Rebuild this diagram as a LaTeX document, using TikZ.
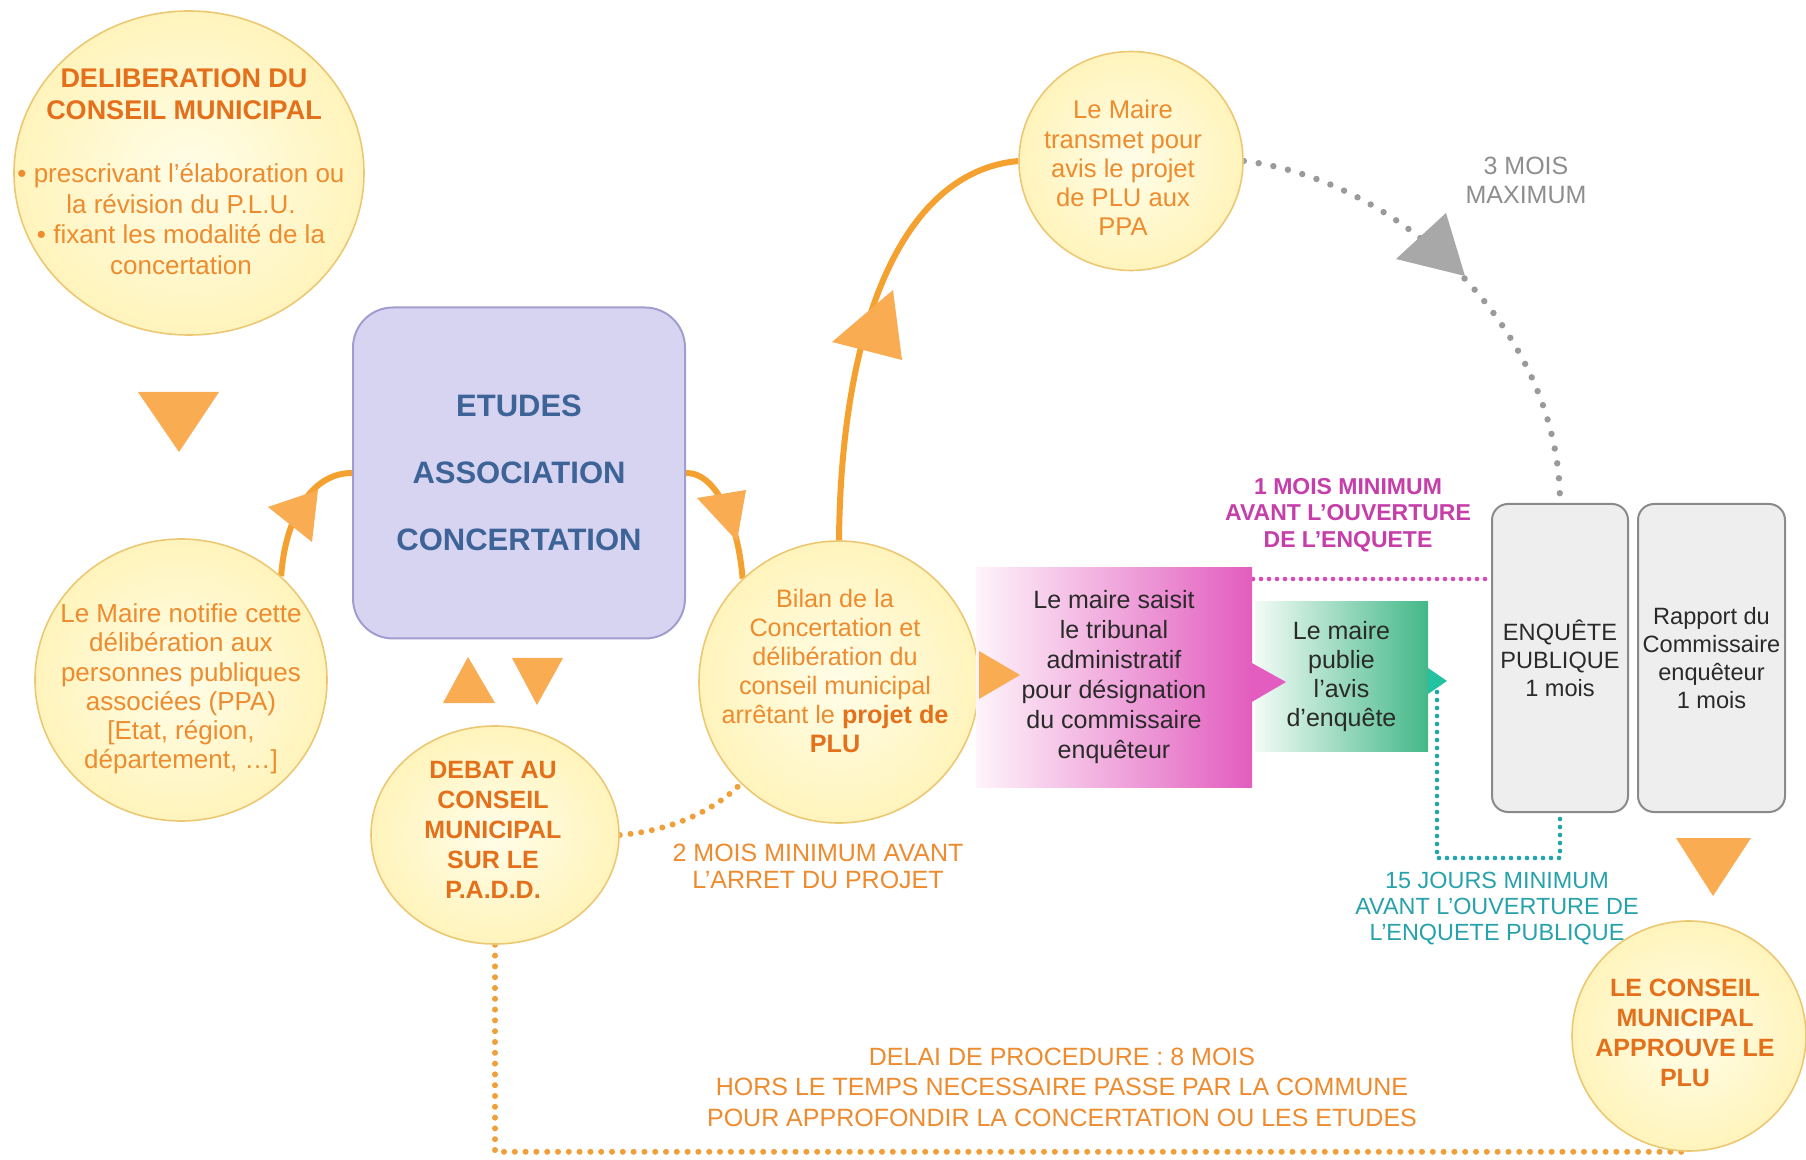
\documentclass[tikz,border=0pt]{standalone}
\usepackage{fontspec}
\setmainfont{Liberation Sans}
\usetikzlibrary{shapes.geometric}
\pgfdeclarelayer{bg}
\pgfsetlayers{bg,main}
\definecolor{circIn}{HTML}{FFFDE8}
\definecolor{circOut}{HTML}{FFF4BC}
\definecolor{circBd}{HTML}{EDC873}
\definecolor{orTtl}{HTML}{E4701C}
\definecolor{orTxt}{HTML}{EE8B2E}
\definecolor{curveOr}{HTML}{F4A12F}
\definecolor{triOr}{HTML}{F9AC52}
\definecolor{boxFill}{HTML}{D7D4F2}
\definecolor{boxBd}{HTML}{A19ECF}
\definecolor{blueTxt}{HTML}{3D6397}
\definecolor{darkTxt}{HTML}{2A2A2A}
\definecolor{greyTxt}{HTML}{8E8E8E}
\definecolor{greyDot}{HTML}{9A9A9A}
\definecolor{greyTri}{HTML}{A8A8A8}
\definecolor{greyFill}{HTML}{EEEEEE}
\definecolor{greyBd}{HTML}{8A8A8A}
\definecolor{pinkR}{HTML}{E25DBF}
\definecolor{pinkM}{HTML}{F2B0E0}
\definecolor{pinkL}{HTML}{FEF4FA}
\definecolor{pinkTxt}{HTML}{C53EA9}
\definecolor{pinkDot}{HTML}{D84AB5}
\definecolor{greenR}{HTML}{43B888}
\definecolor{greenL}{HTML}{F2FBF6}
\definecolor{tealTri}{HTML}{22C1A2}
\definecolor{tealDot}{HTML}{22A5A8}
\definecolor{tealTxt}{HTML}{27A2AA}
\definecolor{dotOr}{HTML}{F0A03A}
\begin{document}
\begin{tikzpicture}[x=0.5pt,y=-0.5pt,
  circ/.style={ellipse, draw=circBd, line width=0.8pt, inner color=circIn, outer color=circOut, inner sep=0pt},
  txt/.style={align=center, inner sep=0pt, text=orTxt, font=\fontsize{13}{14.6}\selectfont},
  ttl/.style={align=center, inner sep=0pt, text=orTtl, font=\fontsize{12.5}{15}\selectfont\bfseries},
  lbl/.style={align=center, inner sep=0pt, font=\fontsize{12.5}{14.5}\selectfont},
  flow/.style={draw=curveOr, line width=3pt},
  odot/.style={draw=dotOr, line width=3pt, dash pattern=on 0pt off 5.4pt, line cap=round},
  gdot/.style={draw=greyDot, line width=3.2pt, dash pattern=on 0pt off 7.5pt, line cap=round},
  pdot/.style={draw=pinkDot, line width=2.3pt, dash pattern=on 0pt off 4pt, line cap=round},
  tdot/.style={draw=tealDot, line width=2.3pt, dash pattern=on 0pt off 4pt, line cap=round},
  gbox/.style={draw=greyBd, fill=greyFill, line width=1pt, rounded corners=8pt, minimum height=154pt, inner sep=0pt, align=center, text=darkTxt, font=\fontsize{11.8}{14}\selectfont}
]
\begin{pgfonlayer}{bg}
\fill[white] (0,0) rectangle (1806,1160);
\end{pgfonlayer}
\useasboundingbox (0,0) rectangle (1806,1160);

% circles
\node[circ, minimum width=175pt, minimum height=162pt] (delib) at (189,173) {};
\node[ttl, font=\fontsize{13.5}{16}\selectfont\bfseries] (delibT) at (184,94) {DELIBERATION DU\\CONSEIL MUNICIPAL};
\node[txt, font=\fontsize{13}{15.3}\selectfont] (delibB) at (181,219) {• prescrivant l'élaboration ou\\la révision du P.L.U.\\• fixant les modalité de la\\concertation};

\node[circ, minimum width=146pt, minimum height=141pt] (notifie) at (181,680) {};
\node[txt] (notifieT) at (181,689) {Le Maire notifie cette\\délibération aux\\personnes publiques\\associées (PPA)\\{[}Etat, région,\\département, …]};

\node[circ, minimum width=124pt, minimum height=109pt] (debat) at (495,835) {};
\node[ttl] (debatT) at (493,830) {DEBAT AU\\CONSEIL\\MUNICIPAL\\SUR LE\\P.A.D.D.};

\node[circ, minimum width=140pt, minimum height=141pt] (bilan) at (839,682) {};
\node[txt, font=\fontsize{12.6}{14.5}\selectfont] (bilanT) at (835,671) {Bilan de la\\Concertation et\\délibération du\\conseil municipal\\arrêtant le \textcolor{orTtl}{\textbf{projet de}}\\\textcolor{orTtl}{\textbf{PLU}}};

\node[circ, minimum width=112pt, minimum height=109.5pt] (transmet) at (1131,161) {};
\node[txt, font=\fontsize{12.8}{14.6}\selectfont] (transmetT) at (1123,168) {Le Maire\\transmet pour\\avis le projet\\de PLU aux\\PPA};

\node[circ, minimum width=117pt, minimum height=115pt] (conseil) at (1689,1036) {};
\node[ttl] (conseilT) at (1685,1033) {LE CONSEIL\\MUNICIPAL\\APPROUVE LE\\PLU};

% boxes
\node[draw=boxBd, fill=boxFill, line width=1pt, rounded corners=20pt, minimum width=166pt, minimum height=165.5pt, inner sep=0pt, align=center, text=blueTxt, font=\fontsize{15.5}{33.5}\selectfont\bfseries] (etudes) at (519,473) {ETUDES\\ASSOCIATION\\CONCERTATION};

\node[left color=pinkL, middle color=pinkM, right color=pinkR, minimum width=138pt, minimum height=109.5pt, inner sep=0pt, align=center, text=darkTxt, font=\fontsize{12.5}{15}\selectfont] (saisit) at (1114,677.5) {Le maire saisit\\le tribunal\\administratif\\pour désignation\\du commissaire\\enquêteur};

\node[left color=greenL, right color=greenR, minimum width=86.5pt, minimum height=74.5pt, inner sep=0pt, align=center, text=darkTxt, font=\fontsize{12.5}{14.5}\selectfont] (publie) at (1341.5,676.5) {Le maire\\publie\\l'avis\\d'enquête};

\node[gbox, minimum width=68pt] (enq) at (1560,658) {ENQUÊTE\\PUBLIQUE\\1 mois};
\node[gbox, minimum width=73.5pt] (rapport) at (1711.5,658) {Rapport du\\Commissaire\\enquêteur\\1 mois};

% labels
\node[lbl, text=greyTxt] (l3m) at (1526,180) {3 MOIS\\MAXIMUM};
\node[lbl, text=pinkTxt, font=\fontsize{11.5}{13.3}\selectfont\bfseries] (l1m) at (1348,515) {1 MOIS MINIMUM\\AVANT L'OUVERTURE\\DE L'ENQUETE};
\node[lbl, text=tealTxt, font=\fontsize{11.7}{13}\selectfont] (l15) at (1497,909) {15 JOURS MINIMUM\\AVANT L'OUVERTURE DE\\L'ENQUETE PUBLIQUE};
\node[lbl, text=orTxt, font=\fontsize{12.5}{13.5}\selectfont] (l2m) at (818,866) {2 MOIS MINIMUM AVANT\\L'ARRET DU PROJET};
\node[lbl, text=orTxt, font=\fontsize{12.5}{15.25}\selectfont] (ldelai) at (1062,1087) {DELAI DE PROCEDURE : 8 MOIS\\HORS LE TEMPS NECESSAIRE PASSE PAR LA COMMUNE\\POUR APPROFONDIR LA CONCERTATION OU LES ETUDES};

% connectors
\coordinate (pk) at (1253,579);
\coordinate (tk) at (1437,692);
\begin{pgfonlayer}{bg}
\draw[flow] (notifie.46) .. controls (285,520) and (310,473) .. (etudes.west);
\draw[flow] (etudes.east) .. controls (715,472) and (738,520) .. (bilan.133);
\draw[flow] (bilan.north) .. controls (841,330) and (900,172) .. (transmet.west);
\draw[odot] (debat.east) .. controls (680,830) and (720,805) .. (bilan.226);
\draw[odot] (debat.south) |- (conseil.south);
\draw[gdot] (transmet.east) .. controls (1400,180) and (1560,330) .. (enq.north);
\draw[pdot] (pk) -- (pk -| enq.west);
\draw[tdot] (tk) -- ++(0,166) -| (enq.south);
\end{pgfonlayer}

% triangles
\fill[triOr] (138,392) -- (219,392) -- (179,452) -- cycle;
\fill[triOr] (268,507) -- (318,490) -- (312,542) -- cycle;
\fill[triOr] (697,498) -- (746,490) -- (737,541) -- cycle;
\fill[triOr] (832,342) -- (893,290) -- (902,360) -- cycle;
\fill[triOr] (979,651) -- (1020,675) -- (979,699) -- cycle;
\fill[triOr] (468,657) -- (443,703) -- (495,703) -- cycle;
\fill[triOr] (512,658) -- (563,658) -- (537,705) -- cycle;
\fill[triOr] (1676,838) -- (1751,838) -- (1713,896) -- cycle;
\fill[pinkR] (1250,662) -- (1286,682) -- (1250,703) -- cycle;
\fill[tealTri] (1428,668) -- (1447,681) -- (1428,694) -- cycle;
\fill[greyTri] (1396,259) -- (1446,213) -- (1465,276) -- cycle;
\end{tikzpicture}
\end{document}
